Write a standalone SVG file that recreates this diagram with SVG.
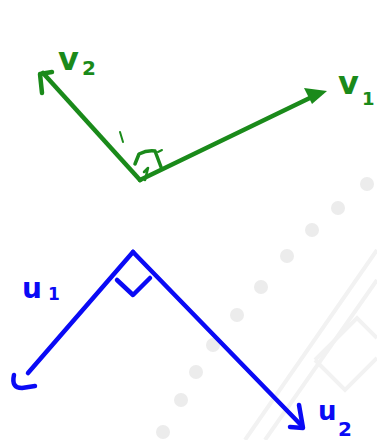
<svg xmlns="http://www.w3.org/2000/svg" width="377" height="440" viewBox="0 0 377 440">
<style>
.wm{fill:#ececec}
.wl{fill:none;stroke:#f2f2f2;stroke-width:4}
.g{fill:none;stroke:#1a8a1a;stroke-width:4.5;stroke-linecap:round;stroke-linejoin:round}
.b{fill:none;stroke:#0a0af5;stroke-width:4.5;stroke-linecap:round;stroke-linejoin:round}
.gt{fill:#1a8a1a;font-family:"DejaVu Sans",sans-serif;font-weight:bold}
.bt{fill:#0a0af5;font-family:"DejaVu Sans",sans-serif;font-weight:bold}
</style>
<rect width="377" height="440" fill="#ffffff"/>
<g id="watermark">
<circle class="wm" cx="367" cy="184" r="7"/>
<circle class="wm" cx="338" cy="208" r="7"/>
<circle class="wm" cx="312" cy="230" r="7"/>
<circle class="wm" cx="287" cy="256" r="7"/>
<circle class="wm" cx="261" cy="287" r="7"/>
<circle class="wm" cx="237" cy="315" r="7"/>
<circle class="wm" cx="213" cy="345" r="7"/>
<circle class="wm" cx="196" cy="372" r="7"/>
<circle class="wm" cx="181" cy="400" r="7"/>
<circle class="wm" cx="163" cy="432" r="7"/>
<path class="wl" d="M245,440 L377,250"/>
<path class="wl" d="M265,440 L377,280"/>
<path class="wl" d="M315,360 L357,318 L377,338 M315,360 L345,390 L377,358"/>
</g>
<g id="v-vectors">
<path class="g" d="M140,180 L43,73"/>
<path class="g" d="M42,93 L40,74 L52,72"/>
<path class="g" d="M140,180 L316,95"/>
<polygon points="327,91 304,88 312,104" fill="#1a8a1a"/>
<path class="g" d="M135,164 L139,154 Q147,150 155,151 L161,167" style="stroke-width:3.5"/>
<path class="g" d="M120,132 L123,142" style="stroke-width:2"/>
<path class="g" d="M158,152 L162,150" style="stroke-width:2"/>
<path class="g" d="M144,172 L148,168 L145,180" style="stroke-width:2.5"/>
<text class="gt" x="58" y="70" font-size="32">v</text>
<text class="gt" x="82" y="75" font-size="20">2</text>
<text class="gt" x="338" y="94" font-size="32">v</text>
<text class="gt" x="362" y="105" font-size="18">1</text>
</g>
<g id="u-vectors">
<path class="b" d="M133,252 L28,373"/>
<path class="b" d="M14,375 Q11,388 22,388 L35,386"/>
<path class="b" d="M133,252 L302,426"/>
<path class="b" d="M299,405 L303,428 L290,427"/>
<path class="b" d="M117,280 L133,295 L150,278"/>
<text class="bt" x="22" y="298" font-size="28">u</text>
<text class="bt" x="48" y="300" font-size="17">1</text>
<text class="bt" x="318" y="420" font-size="26">u</text>
<text class="bt" x="338" y="436" font-size="20">2</text>
</g>
</svg>
